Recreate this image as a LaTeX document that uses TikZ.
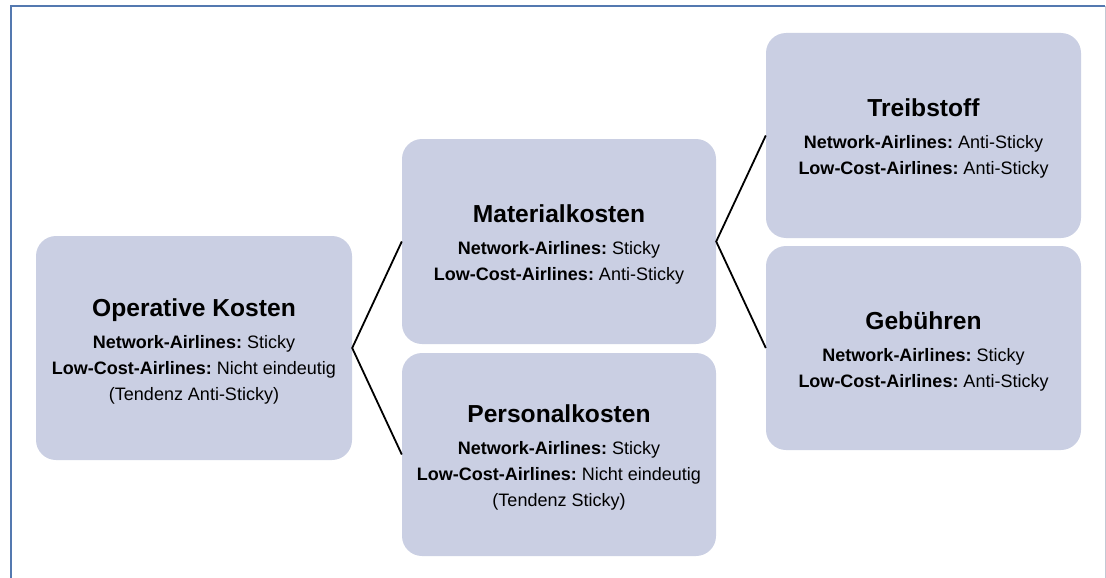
\documentclass[tikz,border=0pt]{standalone}
\usepackage{fontspec}
\setmainfont{Liberation Sans}
\definecolor{boxfill}{HTML}{CACFE3}
\definecolor{frameblue}{HTML}{5479B0}
\definecolor{framegray}{HTML}{C3C8D3}
\tikzset{
  costbox/.style={fill=boxfill, rounded corners=20pt, inner sep=0pt,
    align=center, font=\frenchspacing\fontsize{18}{26}\selectfont, text=black},
  link/.style={draw=black, line width=1.8pt},
}
\newcommand{\ttl}[1]{{\fontsize{24.6}{32}\selectfont\bfseries\rule{0pt}{24pt}#1}\\[6pt]}
\begin{document}
\begin{tikzpicture}[x=1pt,y=-1pt]
\useasboundingbox (0,0) rectangle (1106,578);
% frame
\draw[framegray, line width=1pt] (1105.5,6.5) -- (1105.5,578);
\draw[frameblue, line width=2pt] (11,578) -- (11,6.5) -- (1105,6.5);
% boxes
\node[costbox, minimum width=316pt, minimum height=224pt] (op) at (194,348)
  {\ttl{Operative Kosten}\textbf{Network-Airlines:} Sticky\\
   \textbf{Low-Cost-Airlines:} Nicht eindeutig\\ (Tendenz Anti-Sticky)};
\node[costbox, minimum width=314pt, minimum height=205pt] (mat) at (559,241.5)
  {\ttl{Materialkosten}\textbf{Network-Airlines:} Sticky\\
   \textbf{Low-Cost-Airlines:} Anti-Sticky};
\node[costbox, minimum width=314pt, minimum height=203pt] (pers) at (559,454.5)
  {\ttl{Personalkosten}\textbf{Network-Airlines:} Sticky\\
   \textbf{Low-Cost-Airlines:} Nicht eindeutig\\ (Tendenz Sticky)};
\node[costbox, minimum width=315pt, minimum height=205pt] (treib) at (923.5,135.5)
  {\ttl{Treibstoff}\textbf{Network-Airlines:} Anti-Sticky\\
   \textbf{Low-Cost-Airlines:} Anti-Sticky};
\node[costbox, minimum width=315pt, minimum height=204pt] (geb) at (923.5,348)
  {\ttl{Gebühren}\textbf{Network-Airlines:} Sticky\\
   \textbf{Low-Cost-Airlines:} Anti-Sticky};
% connectors
\draw[link] (mat.west) -- (op.east) -- (pers.west);
\draw[link] (treib.west) -- (mat.east) -- (geb.west);
\end{tikzpicture}
\end{document}
